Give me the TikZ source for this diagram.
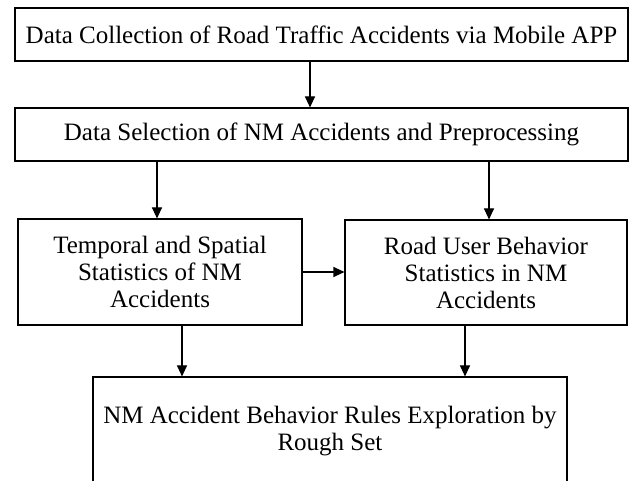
\documentclass[tikz,border=0pt]{standalone}
\usepackage{fontspec}
\setmainfont{Liberation Serif}
\usetikzlibrary{arrows.meta}
\begin{document}
\begin{tikzpicture}[x=1pt,y=-1pt,
  box/.style={draw, line width=1.1pt, inner sep=0pt, align=center, font=\fontsize{25}{27}\selectfont},
  arr/.style={-{Triangle[length=11pt,width=10pt]}, line width=1.1pt}]
\useasboundingbox (0,0) rectangle (630,481);
\node[box, minimum width=613pt, minimum height=53pt] (b1) at (321.5,34.5) {Data Collection of Road Traffic Accidents via Mobile APP};
\node[box, minimum width=613pt, minimum height=53pt] (b2) at (321.5,134.5) {Data Selection of NM Accidents and Preprocessing};
\node[box, minimum width=284pt, minimum height=106pt] (b3) at (160,272) {Temporal and Spatial\\Statistics of NM\\Accidents};
\node[box, minimum width=282pt, minimum height=105pt] (b4) at (486,272.5) {Road User Behavior\\Statistics in NM\\Accidents};
\node[box, minimum width=474pt, minimum height=108pt] (b5) at (330,431) {NM Accident Behavior Rules Exploration by\\Rough Set};
\coordinate (xa) at (310,0);
\coordinate (xb) at (157,0);
\coordinate (xc) at (489,0);
\coordinate (xd) at (182,0);
\coordinate (xe) at (465,0);
\draw[arr] (b1.south -| xa) -- (b2.north -| xa);
\draw[arr] (b2.south -| xb) -- (b3.north -| xb);
\draw[arr] (b2.south -| xc) -- (b4.north -| xc);
\draw[arr] (b3.east) -- (b4.west |- b3.east);
\draw[arr] (b3.south -| xd) -- (b5.north -| xd);
\draw[arr] (b4.south -| xe) -- (b5.north -| xe);
\end{tikzpicture}
\end{document}
